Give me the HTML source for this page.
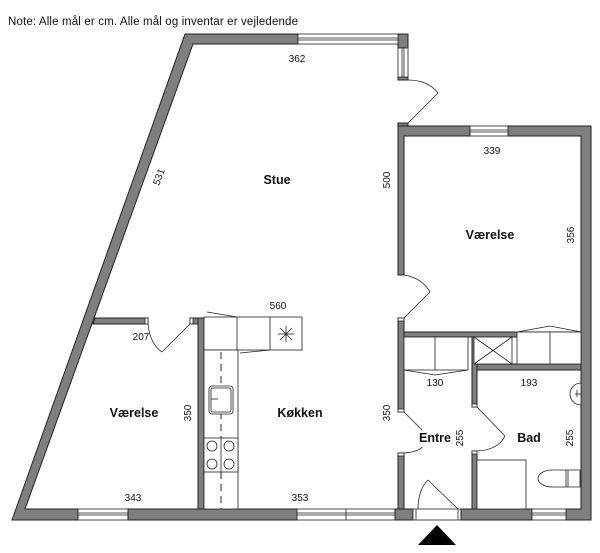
<!DOCTYPE html>
<html><head><meta charset="utf-8"><style>
html,body{margin:0;padding:0;background:#fff;}
svg{display:block;font-family:"Liberation Sans",sans-serif;}
.w{fill:#7f7f7f;stroke:#222;stroke-width:1;}
.l{fill:none;stroke:#222;stroke-width:0.8;}
.f{fill:#fff;stroke:#222;stroke-width:0.8;}
.t{font-size:10px;fill:#111;}
.b{font-size:12.5px;font-weight:bold;fill:#111;}
</style></head><body>
<svg width="600" height="553" viewBox="0 0 600 553" xmlns="http://www.w3.org/2000/svg">
<text x="8" y="25" font-size="11.5" textLength="290" fill="#111">Note: Alle mål er cm. Alle mål og inventar er vejledende</text>

<!-- outer walls -->
<polygon class="w" points="185,34 298,34 298,44 193,44 25,509 78,509 78,520 12,520"/>
<polygon class="w" points="398,34 408,34 408,48 398,48"/>
<rect class="w" x="398" y="77" width="10" height="3"/>
<rect class="w" x="398" y="123" width="10" height="3"/>
<polygon class="w" points="398,126 470,126 470,136 404,136 404,275 398,275"/>
<polygon class="w" points="508,126 591,126 591,520 566,520 566,509 581,509 581,136 508,136"/>
<!-- windows -->
<rect class="f" x="298" y="34" width="100" height="10"/><line class="l" x1="298" y1="38" x2="398" y2="38"/><line class="l" x1="298" y1="40" x2="398" y2="40"/>
<rect class="f" x="398" y="48" width="10" height="29"/><line class="l" x1="402" y1="48" x2="402" y2="77"/><line class="l" x1="404" y1="48" x2="404" y2="77"/>
<rect class="f" x="470" y="126" width="38" height="10"/><line class="l" x1="470" y1="130" x2="508" y2="130"/><line class="l" x1="470" y1="132" x2="508" y2="132"/>
<rect class="f" x="78" y="509" width="50" height="11"/><line class="l" x1="78" y1="513" x2="128" y2="513"/><line class="l" x1="78" y1="515" x2="128" y2="515"/>
<rect class="w" x="128" y="509" width="169" height="11"/>
<rect class="f" x="297" y="509" width="98" height="11"/><line class="l" x1="297" y1="513" x2="395" y2="513"/><line class="l" x1="297" y1="515" x2="395" y2="515"/><line class="l" x1="346" y1="509" x2="346" y2="520"/>
<rect class="w" x="395" y="509" width="18" height="11"/>
<rect class="f" x="413" y="509" width="48" height="11"/><line class="l" x1="416" y1="509" x2="416" y2="520"/><line class="l" x1="458" y1="509" x2="458" y2="520"/>
<rect class="w" x="461" y="509" width="71" height="11"/>
<rect class="f" x="532" y="509" width="34" height="11"/><line class="l" x1="532" y1="513" x2="566" y2="513"/><line class="l" x1="532" y1="515" x2="566" y2="515"/>
<!-- door top right -->
<line class="l" x1="408" y1="123" x2="438" y2="93"/><path class="l" d="M408,80 Q428,80 438,93"/>

<!-- interior walls -->
<polygon class="w" points="95,318 148,318 148,324 93,324"/>
<rect class="f" x="145" y="318" width="3" height="6"/>
<rect class="w" x="190" y="318" width="14" height="6"/>
<rect class="f" x="190" y="318" width="3" height="6"/>
<rect class="w" x="198" y="318" width="6" height="191"/>
<line class="l" x1="190" y1="324" x2="162" y2="352"/><path class="l" d="M148,324 Q150,344 162,352"/>

<rect class="w" x="398" y="318" width="6" height="94"/>
<rect class="f" x="398" y="318" width="6" height="3"/>
<rect class="f" x="398" y="409" width="6" height="3"/>
<rect class="w" x="398" y="453" width="6" height="56"/>
<rect class="f" x="398" y="453" width="6" height="3"/>
<line class="l" x1="404" y1="318" x2="430" y2="292"/><path class="l" d="M404,275 Q422,278 430,292"/>
<line class="l" x1="404" y1="412" x2="422" y2="430"/><path class="l" d="M404,453 Q418,452 422,447"/>
<rect class="w" x="404" y="332" width="177" height="5"/>
<rect class="w" x="472" y="337" width="5" height="70"/>
<rect class="f" x="472" y="404" width="5" height="3"/>
<rect class="w" x="472" y="451" width="5" height="58"/>
<rect class="f" x="472" y="451" width="5" height="3"/>
<rect class="w" x="477" y="364" width="104" height="6"/>
<line class="l" x1="477" y1="407" x2="505" y2="436"/><path class="l" d="M477,451 Q498,450 505,436"/>

<!-- closets -->
<rect class="f" x="404" y="337" width="64" height="33"/><line class="l" x1="435" y1="337" x2="435" y2="370"/>
<polyline class="l" points="404,370 435,375 468,370"/>
<rect class="f" x="474" y="337" width="38" height="27"/><line class="l" x1="474" y1="337" x2="512" y2="364"/><line class="l" x1="512" y1="337" x2="474" y2="364"/>
<rect class="f" x="517" y="332" width="64" height="32"/><line class="l" x1="550" y1="332" x2="550" y2="364"/>
<polyline class="l" points="517,332 550,326 581,332"/>

<!-- bath -->
<rect class="f" x="477" y="460" width="49" height="49"/>
<path class="f" d="M581,383 A11,11 0 1 0 581,405 Z"/><line class="l" x1="577" y1="390" x2="577" y2="397"/><line class="l" x1="575" y1="394" x2="581" y2="394"/>
<path class="f" d="M552,470 L580,470 L580,487 L552,487 A14,8.5 0 0 1 552,470 Z"/><line class="l" x1="566" y1="470" x2="566" y2="487"/><line class="l" x1="568" y1="470" x2="568" y2="487"/>

<!-- entrance door -->
<line class="l" x1="428" y1="480" x2="458" y2="509"/><path class="l" d="M418,509 Q418,490 428,480"/>
<polygon points="418,545 437,525 456,545" fill="#000"/>

<!-- kitchen -->
<line class="l" x1="207" y1="312" x2="237" y2="317"/>
<rect class="f" x="204" y="317" width="98" height="33"/>
<line class="l" x1="237" y1="317" x2="237" y2="350"/><line class="l" x1="270" y1="317" x2="270" y2="350"/>
<line class="l" x1="240" y1="353" x2="270" y2="350"/>
<g class="l"><line x1="278" y1="334" x2="294" y2="334"/><line x1="286" y1="326" x2="286" y2="342"/><line x1="280" y1="328" x2="292" y2="340"/><line x1="292" y1="328" x2="280" y2="340"/></g>
<rect class="f" x="204" y="350" width="34" height="159"/>
<line x1="221" y1="352" x2="221" y2="509" stroke="#222" stroke-width="1" stroke-dasharray="7,5"/>
<rect class="f" x="209" y="386" width="24" height="28" rx="3"/><rect class="f" x="211" y="388" width="20" height="24" rx="2"/>
<line class="l" x1="211" y1="399" x2="218" y2="399"/>
<rect class="f" x="204" y="438" width="34" height="34"/><line class="l" x1="221" y1="438" x2="221" y2="472"/>
<circle class="f" cx="212" cy="446" r="5"/><circle class="f" cx="229" cy="446" r="5"/><circle class="f" cx="212" cy="464" r="5"/><circle class="f" cx="229" cy="464" r="5"/>

<!-- labels -->
<text class="t" x="297" y="62" text-anchor="middle">362</text>
<text class="b" x="277" y="184" text-anchor="middle">Stue</text>
<text class="t" x="0" y="0" text-anchor="middle" transform="translate(162,178) rotate(-70)">531</text>
<text class="t" x="0" y="0" text-anchor="middle" transform="translate(390,180) rotate(-90)">500</text>
<text class="t" x="492" y="154" text-anchor="middle">339</text>
<text class="b" x="490" y="239" text-anchor="middle">Værelse</text>
<text class="t" x="0" y="0" text-anchor="middle" transform="translate(574,235) rotate(-90)">356</text>
<text class="t" x="278" y="309" text-anchor="middle">560</text>
<text class="t" x="141" y="340" text-anchor="middle">207</text>
<text class="b" x="134" y="417" text-anchor="middle">Værelse</text>
<text class="t" x="0" y="0" text-anchor="middle" transform="translate(191,413) rotate(-90)">350</text>
<text class="b" x="300" y="417" text-anchor="middle">Køkken</text>
<text class="t" x="0" y="0" text-anchor="middle" transform="translate(390,413) rotate(-90)">350</text>
<text class="b" x="435" y="442" text-anchor="middle">Entre</text>
<text class="t" x="0" y="0" text-anchor="middle" transform="translate(463,438) rotate(-90)">255</text>
<text class="b" x="529" y="442" text-anchor="middle">Bad</text>
<text class="t" x="0" y="0" text-anchor="middle" transform="translate(573,438) rotate(-90)">255</text>
<text class="t" x="435" y="386" text-anchor="middle">130</text>
<text class="t" x="529" y="386" text-anchor="middle">193</text>
<text class="t" x="133" y="501" text-anchor="middle">343</text>
<text class="t" x="300" y="501" text-anchor="middle">353</text>
</svg>
</body></html>
